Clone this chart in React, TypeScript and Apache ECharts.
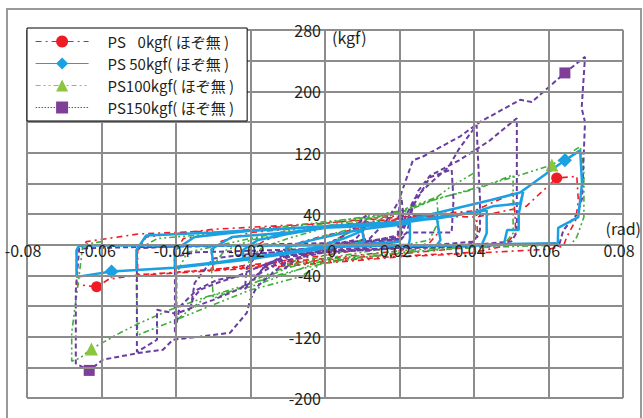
import React, { useEffect, useRef } from "react";
import * as echarts from "echarts";

// ---- data (rad, kgf) ----
const seriesNames = ["PS \u20070kgf( ほぞ無 )", "PS 50kgf( ほぞ無 )", "PS100kgf( ほぞ無 )", "PS150kgf( ほぞ無 )"];

const ps0Path: number[][] = [
  [0, 0], [0.005, 12], [0.01, 24], [0.0105, 8], [0.007, 0], [0, -6], [-0.006, -14], [-0.01, -22], [-0.0105, -6], [-0.006, 4], [0, 12],
  [0.01, 22], [0.02, 34], [0.0205, 14], [0.018, 2], [0.01, -6], [0, -14], [-0.01, -20], [-0.02, -28], [-0.0205, -8], [-0.016, 6], [-0.01, 14], [0, 22],
  [0.01, 28], [0.02, 32], [0.03, 40], [0.0305, 16], [0.028, 2], [0.02, -8], [0, -18], [-0.02, -26], [-0.03, -33], [-0.0305, -10], [-0.028, 4], [-0.02, 16], [0, 24],
  [0.02, 34], [0.03, 38], [0.0407, 42], [0.0407, 36], [0.041, 10], [0.038, -4], [0.02, -12], [0, -20], [-0.02, -28], [-0.0403, -36], [-0.0405, -10], [-0.038, 8], [-0.02, 20], [0, 28],
  [0.02, 36], [0.04, 44], [0.0505, 67], [0.051, 40], [0.0512, 15], [0.048, -2], [0.04, -10], [0.02, -15], [0, -22], [-0.02, -30], [-0.04, -36], [-0.0497, -39], [-0.0503, -38], [-0.0503, -8], [-0.048, 10], [-0.03, 20], [0, 28],
  [0.02, 38], [0.0407, 36], [0.054, 50], [0.0622, 87], [0.0676, 89], [0.068, 58], [0.0673, 32], [0.0649, 10], [0.064, -2], [0.06, -6], [0.04, -11], [0.02, -16], [0, -24], [-0.02, -31], [-0.04, -37], [-0.0506, -40], [-0.058, -45], [-0.0613, -55], [-0.0667, -52], [-0.0667, -30], [-0.0667, -8], [-0.064, 4], [-0.05, 14], [-0.03, 18],
];
const ps0Marks: number[][] = [[0.0622, 87], [-0.0613, -55]];

const ps50Path: number[][] = [
  [0, 0], [0.005, 8], [0.01, 18], [0.0105, 4], [0.006, -1], [0, -2], [-0.005, -6], [-0.01, -12], [-0.0105, -4], [-0.006, 3], [0, 10],
  [0.01, 20], [0.02, 26], [0.0228, 28], [0.0228, 8], [0.0225, 0], [0.01, -1], [0, -2], [-0.01, -10], [-0.022, -20], [-0.022, -7], [-0.018, 6], [-0.01, 14], [0, 22],
  [0.01, 24], [0.02, 28], [0.03, 35], [0.031, 6], [0.03, -1], [0.01, -1], [0, -3], [-0.015, -13], [-0.03, -24], [-0.0305, -6], [-0.025, 10], [-0.01, 16], [0, 22],
  [0.02, 30], [0.03, 34], [0.0434, 45], [0.0434, 15], [0.042, -1], [0.02, -1], [0, -3], [-0.02, -18], [-0.0403, -29], [-0.0403, -7], [-0.035, 10], [-0.02, 18], [0, 24],
  [0.02, 30], [0.04, 42], [0.045, 50], [0.0524, 54], [0.0532, 69], [0.052, 40], [0.052, 19], [0.0489, 19], [0.048, 0], [0.03, -1], [0, -2], [-0.02, -19], [-0.04, -30], [-0.0506, -33], [-0.0506, -7], [-0.048, 12], [-0.03, 16], [0, 24],
  [0.02, 30], [0.0443, 58], [0.0524, 68], [0.0644, 110], [0.0685, 123], [0.069, 80], [0.068, 36], [0.0626, 22], [0.0625, 2], [0.03, -1], [0, -1], [-0.03, -1], [-0.066, -1], [-0.0667, -7], [-0.0667, -42], [-0.0573, -35], [-0.0506, -33], [-0.0407, -30], [-0.022, -20], [0.004, -2], [0.02, 4],
];
const ps50Marks: number[][] = [[0.0644, 110], [-0.0573, -35]];

const ps100Path: number[][] = [
  [0, 0], [0.005, 12], [0.01, 26], [0.0105, 8], [0.007, 0], [0, -8], [-0.006, -16], [-0.01, -26], [-0.0105, -8], [-0.006, 2], [0, 12],
  [0.01, 24], [0.02, 42], [0.0205, 18], [0.018, 4], [0.01, -4], [0, -14], [-0.01, -28], [-0.02, -48], [-0.0205, -20], [-0.017, -4], [-0.01, 8], [0, 22],
  [0.01, 30], [0.02, 44], [0.03, 62], [0.0305, 30], [0.028, 6], [0.02, -2], [0, -18], [-0.01, -30], [-0.02, -52], [-0.03, -70], [-0.0305, -30], [-0.027, -8], [-0.02, 6], [0, 24],
  [0.02, 42], [0.029, 58], [0.0336, 75], [0.0398, 93], [0.04, 55], [0.0405, 10], [0.038, -2], [0.02, -8], [0, -20], [-0.02, -55], [-0.0318, -68], [-0.0398, -98], [-0.0398, -37], [-0.037, -10], [-0.02, 8], [0, 28],
  [0.02, 44], [0.03, 60], [0.0416, 74], [0.0505, 91], [0.0505, 62], [0.0505, 15], [0.048, 0], [0.03, -6], [0, -22], [-0.0067, -42], [-0.02, -59], [-0.038, -94], [-0.0503, -118], [-0.0506, -60], [-0.0506, -7], [-0.045, 8], [-0.02, 18], [0, 30],
  [0.02, 40], [0.029, 58], [0.0505, 88], [0.0609, 104], [0.0685, 128], [0.0695, 101], [0.0695, 36], [0.0676, 10], [0.066, 0], [0.04, -4], [0.02, -10], [0, -24], [-0.01, -36], [-0.02, -51], [-0.0318, -68], [-0.0416, -85], [-0.0497, -102], [-0.055, -115], [-0.0627, -136], [-0.0658, -148], [-0.068, -152], [-0.068, -115], [-0.066, -40], [-0.065, 0], [-0.06, 4],
];
const ps100Marks: number[][] = [[0.0609, 104], [-0.0627, -136]];

const ps150Path: number[][] = [
  [0, 0], [0.004, 8], [0.008, 22], [0.011, 38], [0.0105, 20], [0.008, 6], [0.004, 2], [0, -2], [-0.004, -8], [-0.008, -20], [-0.011, -32], [-0.0105, -15], [-0.007, -6], [0, -3],
  [0.006, 2], [0.012, 8], [0.016, 28], [0.019, 50], [0.0205, 62], [0.021, 40], [0.0195, 12], [0.012, 4], [0, -4], [-0.01, -10], [-0.016, -28], [-0.02, -48], [-0.0215, -58], [-0.021, -30], [-0.018, -12], [-0.01, -8], [0, -4],
  [0.01, 4], [0.02, 8], [0.022, 16], [0.0236, 50], [0.0282, 88], [0.034, 98], [0.0345, 58], [0.034, 16], [0.022, 16], [0.02, 4], [0.01, -4], [0, -8], [-0.01, -14], [-0.0183, -30], [-0.024, -42], [-0.029, -50], [-0.0336, -59], [-0.0354, -70], [-0.036, -81], [-0.035, -50], [-0.03, -18], [-0.02, -12], [0, -6],
  [0.01, 0], [0.02, 6], [0.0215, 35], [0.024, 60], [0.0282, 80], [0.033, 100], [0.036, 125], [0.0407, 156], [0.041, 120], [0.0416, 60], [0.0416, 19], [0.04, 4], [0.03, 0], [0.02, -4], [0, -10], [-0.01, -16], [-0.0183, -40], [-0.0247, -42], [-0.029, -46], [-0.0344, -59], [-0.039, -81], [-0.0403, -115], [-0.0403, -60], [-0.0403, -16], [-0.035, -10], [-0.02, -8], [0, -5],
  [0.01, 2], [0.02, 8], [0.022, 30], [0.025, 70], [0.0282, 90], [0.036, 110], [0.044, 135], [0.0515, 165], [0.0515, 100], [0.0515, 16], [0.05, 4], [0.04, 0], [0.02, -4], [0, -8], [-0.01, -14], [-0.016, -28], [-0.02, -50], [-0.024, -60], [-0.03, -72], [-0.04, -90], [-0.0451, -85], [-0.0451, -124], [-0.0505, -140], [-0.0505, -70], [-0.0505, -5], [-0.04, -2], [-0.02, 0], [0, 2],
  [0.01, 4], [0.0195, 10], [0.0201, 62], [0.0236, 110], [0.0263, 115], [0.0362, 141], [0.0416, 160], [0.0524, 189], [0.0555, 186], [0.0644, 224], [0.0698, 245], [0.0689, 178], [0.0698, 160], [0.069, 60], [0.0677, 40], [0.064, 19], [0.063, 2], [0.04, -2], [0.02, -5], [0, -10], [-0.01, -20], [-0.0183, -55], [-0.0201, -72], [-0.021, -89], [-0.0255, -115], [-0.0336, -120], [-0.0408, -124], [-0.0435, -137], [-0.0497, -141], [-0.0596, -150], [-0.0633, -164], [-0.0669, -155], [-0.0669, -60], [-0.066, -5], [-0.05, -3], [-0.03, -2], [0, 0],
];
const ps150Marks: number[][] = [[0.0644, 224], [-0.0633, -164]];

const xMin = -0.08, xMax = 0.08, xStep = 0.02;
const yMin = -200, yMax = 280, yStep = 40, yLabelStep = 80;

const FONT = '"Noto Sans CJK JP", "Noto Sans", sans-serif';
const GRID = "#8c8c8c";
const TXT = "#231f20";

// plot box (px)
const W = 643, H = 418;
const G = { left: 27, top: 30, right: 20, bottom: 20 };

function isMark(marks: number[][], v: number[]) {
  return marks.some((m) => m[0] === v[0] && m[1] === v[1]);
}

export default function App() {
  const ref = useRef<HTMLDivElement>(null);
  useEffect(() => {
    if (!ref.current) return;
    const chart = echarts.init(ref.current, null, { renderer: "svg" });
    const gw = W - G.left - G.right;
    const gh = H - G.top - G.bottom;
    // move the axes to the zero lines
    const xOff = -(gh * (0 - yMin) / (yMax - yMin));
    const yOff = -(gw * (0 - xMin) / (xMax - xMin));
    const mk = (name: string, data: number[][], marks: number[][], color: string, markColor: string, symbol: string, size: number, lineType: any, width: number) => ({
      name,
      type: "line",
      data,
      showSymbol: true,
      showAllSymbol: true,
      symbol,
      symbolSize: (v: number[]) => (isMark(marks, v) ? size : 0),
      itemStyle: { color: markColor },
      lineStyle: { color, type: lineType, width },
      silent: true,
    });
    chart.setOption({
      animation: false,
      backgroundColor: "#fff",
      textStyle: { fontFamily: FONT },
      grid: { left: G.left, top: G.top, right: G.right, bottom: G.bottom, containLabel: false },
      xAxis: {
        type: "value",
        min: xMin,
        max: xMax,
        interval: xStep,
        position: "bottom",
        offset: xOff,
        axisLine: { onZero: false, lineStyle: { color: GRID, width: 2 } },
        axisTick: { show: false },
        splitLine: { show: true, lineStyle: { color: GRID, width: 2 } },
        axisLabel: {
          color: TXT,
          fontSize: 16,
          fontFamily: FONT,
          margin: -3,
          padding: [0, 8, 0, 0],
          formatter: (v: number) => (Math.abs(v) < 1e-9 ? "{z|0}" : v.toFixed(2)),
          rich: { z: { fontSize: 16, fontFamily: FONT, color: TXT, padding: [0, 0, 0, 22] } },
        },
        z: 5,
      },
      yAxis: {
        type: "value",
        min: yMin,
        max: yMax,
        interval: yStep,
        position: "left",
        offset: yOff,
        axisLine: { onZero: false, lineStyle: { color: GRID, width: 2 } },
        axisTick: { show: false },
        splitLine: { show: true, lineStyle: { color: GRID, width: 2 } },
        axisLabel: {
          color: TXT,
          fontSize: 16,
          fontFamily: FONT,
          margin: 4,
          formatter: (v: number) => (((v - yMin) % yLabelStep === 0 && v !== 0) ? String(v) : ""),
        },
        z: 5,
      },
      legend: {
        orient: "vertical",
        left: 27,
        top: 28,
        padding: [6, 13, 6, 8],
        itemWidth: 53,
        itemHeight: 15,
        itemGap: 7,
        backgroundColor: "#fff",
        borderColor: "#000",
        borderWidth: 1,
        textStyle: { fontSize: 15, lineHeight: 15, fontFamily: FONT, color: TXT, padding: [0, 0, 0, 14] },
        data: [
          { name: seriesNames[0], lineStyle: { color: "#ee1c25", type: [6, 4, 2, 4], width: 1.2 } },
          { name: seriesNames[1], lineStyle: { color: "#1ba1e2", type: "solid", width: 1.2 } },
          { name: seriesNames[2], itemStyle: { color: "#8cc63f" }, lineStyle: { color: "#8cc63f", type: [5, 3, 2, 3, 2, 3], width: 1.2 } },
          { name: seriesNames[3], lineStyle: { color: "#7f3f98", type: [1.5, 1.5], width: 1.2 } },
        ],
        z: 10,
      },
      graphic: [
        { type: "rect", z: 0, silent: true, shape: { x: 7, y: 9, width: 634, height: 440 }, style: { fill: "none", stroke: "#999", lineWidth: 2 } },
        { type: "text", x: 332, y: 37, style: { text: "(kgf)", font: `16px ${FONT}`, fill: TXT, verticalAlign: "middle" }, z: 10 },
        { type: "text", x: 641, y: 228, style: { text: "(rad)", font: `16px ${FONT}`, fill: TXT, align: "right", verticalAlign: "middle" }, z: 10 },
      ],
      series: [
        mk(seriesNames[0], ps0Path, ps0Marks, "#ee1c25", "#ee1c25", "circle", 11, [6, 4, 2, 4], 1.6),
        mk(seriesNames[2], ps100Path, ps100Marks, "#3fae3a", "#8cc63f", "triangle", 13, [6, 3, 2, 3, 2, 3], 1.6),
        mk(seriesNames[3], ps150Path, ps150Marks, "#6a3ea1", "#7f3f98", "rect", 11, [5, 3], 2),
        mk(seriesNames[1], ps50Path, ps50Marks, "#1ba1e2", "#1ba1e2", "diamond", 14, "solid", 2.5),
      ],
    });
    return () => chart.dispose();
  }, []);
  return <div ref={ref} style={{ position: "fixed", left: 0, top: 0, width: W, height: H }} />;
}
